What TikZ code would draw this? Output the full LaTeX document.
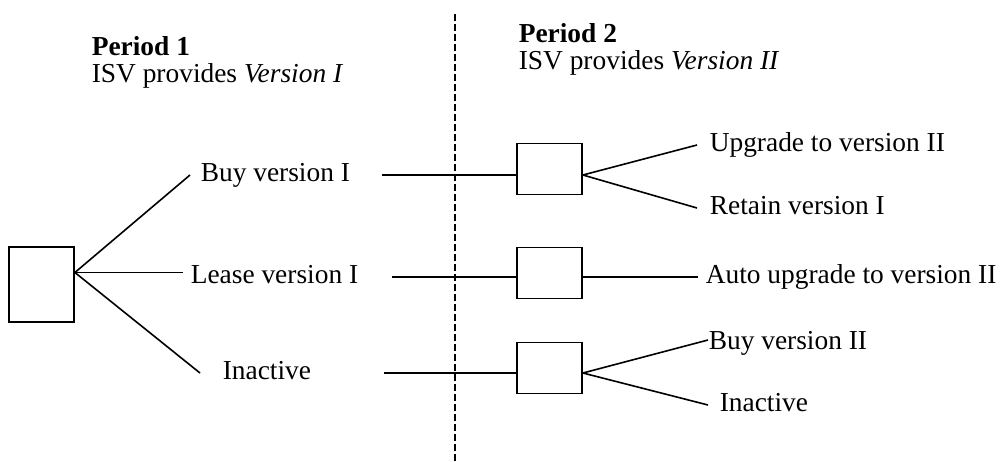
\documentclass[tikz,border=0pt]{standalone}
\usepackage{fontspec}
\setmainfont{Liberation Serif}
\usetikzlibrary{positioning}
\tikzset{
  dbox/.style={draw,line width=1.8pt,minimum width=65pt,minimum height=51pt,inner sep=0pt},
  lbl/.style={anchor=west,inner sep=0pt,text height=18pt,text depth=6pt,font=\fontsize{27.4}{30}\selectfont},
  hd/.style={anchor=base west,inner sep=0pt,font=\fontsize{27.4}{30}\selectfont}
}
\begin{document}
\begin{tikzpicture}[x=1pt,y=-1pt,line width=1.6pt]
\useasboundingbox (0,0) rectangle (1001,461);
% split between the periods
\draw[dash pattern=on 7pt off 3pt] (455,461) -- (455,12);
\node[hd] (per1) at (91,55) {\textbf{Period 1}};
\node[hd] (isv1) at (91,82) {ISV provides \textit{Version I}};
\node[hd] (per2) at (518,42) {\textbf{Period 2}};
\node[hd] (isv2) at (518,69) {ISV provides \textit{Version II}};

% period 1
\node[dbox,minimum height=75pt] (d0) at (41.5,284.5) {};
\coordinate (o0) at ([yshift=12pt]d0.east);
\node[lbl] (buy1) at (200,175) {Buy version I};
\node[lbl] (lease1) at (190,277) {Lease version I};
\node[lbl] (inact1) at (222,373) {Inactive};
\draw (o0) -- ([xshift=-10pt]buy1.west);
\draw[shorten >=7pt] (o0) -- (o0 -| lease1.west);
\draw (o0) -- ([xshift=-22pt]inact1.west);

% period 2
\node[dbox] (b1) at (549.5,169) {};
\node[dbox] (b2) at (549.5,273) {};
\node[dbox] (b3) at (549.5,368) {};
\draw ([xshift=31pt]buy1.east) -- (buy1.east -| b1.west);
\draw ([xshift=33pt]lease1.east) -- (lease1.east -| b2.west);
\draw ([xshift=72pt]inact1.east) -- (inact1.east -| b3.west);

\node[lbl] (up2) at (709,145) {Upgrade to version II};
\node[lbl] (ret2) at (709,208) {Retain version I};
\node[lbl] (auto2) at (705,277) {Auto upgrade to version II};
\node[lbl] (buy2) at (708,343) {Buy version II};
\node[lbl] (inact2) at (719,405) {Inactive};
\draw (buy1.east -| b1.east) -- ([xshift=-12pt]up2.west);
\draw (buy1.east -| b1.east) -- ([xshift=-12pt]ret2.west);
\draw[shorten >=7pt] (lease1.east -| b2.east) -- (auto2.west);
\draw (inact1.east -| b3.east) -- ([yshift=3pt]buy2.west);
\draw (inact1.east -| b3.east) -- ([xshift=-11pt]inact2.west);
\end{tikzpicture}
\end{document}
